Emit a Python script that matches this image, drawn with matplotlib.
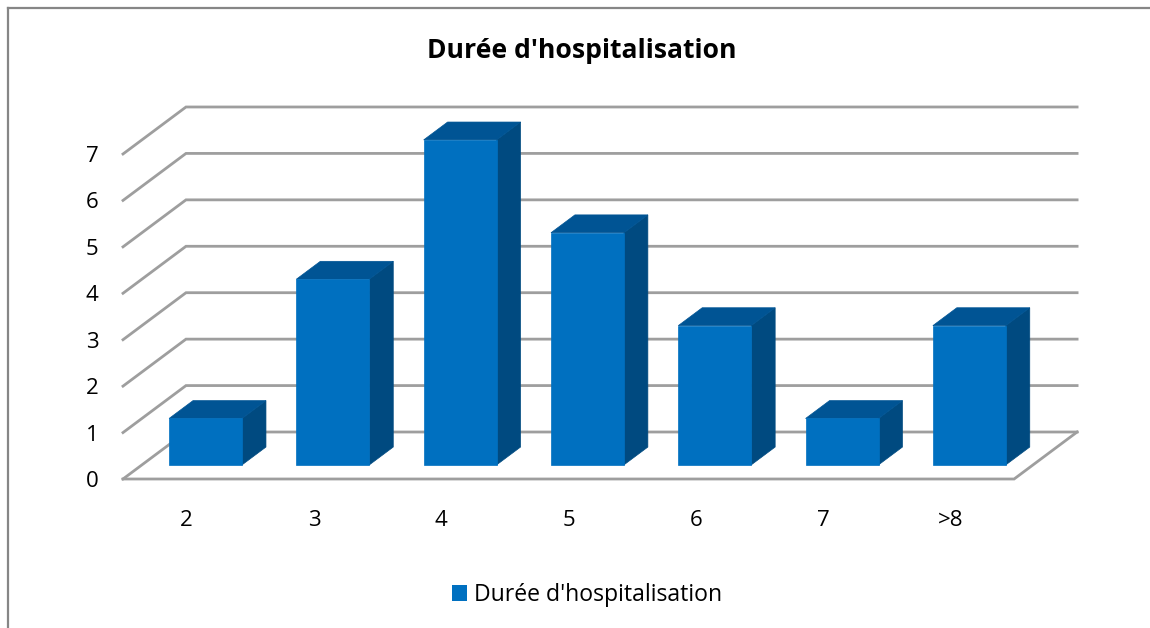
import matplotlib
matplotlib.use('Agg')
import matplotlib.pyplot as plt
from matplotlib.patches import Patch

categories = ['2', '3', '4', '5', '6', '7', '>8']
values = [1, 4, 7, 5, 3, 1, 3]
yticks = [0, 1, 2, 3, 4, 5, 6, 7]
title = "Durée d'hospitalisation"

plt.rcParams['font.family'] = ['Open Sans', 'DejaVu Sans']

W, H = 1150, 628
# pixels for one unit of each axis, and where the origin sits
unit_x, unit_y = 127.3, 46.43
x0_px, y0_px = 123, 479
# full depth of the floor, in axis units
dx, dy = 63 / unit_x, 47 / unit_y
bar_w = 0.573
d_front, d_back = 0.30, 0.68

front_col = '#0070c0'
top_col = '#005494'
side_col = '#004a80'
grid_col = '#9e9e9e'

fig = plt.figure(figsize=(W / 100, H / 100), dpi=100)
ax = fig.add_axes([0, 0, 1, 1])
ax.set_xlim(-x0_px / unit_x, (W - x0_px) / unit_x)
ax.set_ylim(-(H - y0_px) / unit_y, y0_px / unit_y)
ax.axis('off')


def proj(x, y, d):
    # oblique projection, d goes from 0 (front) to 1 (back wall)
    return x + d * dx, y + d * dy


n = len(categories)

# outer frame of the chart area
fx0, fy0 = -(x0_px - 8) / unit_x, (y0_px - 8) / unit_y
ax.plot([fx0, fx0], [ax.get_ylim()[0], fy0], color='#868686', lw=1.6, zorder=1)
ax.plot([fx0, ax.get_xlim()[1]], [fy0, fy0], color='#868686', lw=1.6, zorder=1)

# gridlines on side wall and back wall
for v in yticks:
    xs = [0, proj(0, v, 1)[0], proj(n, v, 1)[0]]
    ys = [v, proj(0, v, 1)[1], proj(n, v, 1)[1]]
    ax.plot(xs, ys, color=grid_col, lw=2.0, solid_joinstyle='miter', zorder=2)
    ax.text(-31 / unit_x, v - 2.5 / unit_y, str(v), ha='center', va='center', fontsize=16, color='black')

# front and right edge of the floor
ax.plot([0, n, proj(n, 0, 1)[0]], [0, 0, proj(n, 0, 1)[1]], color=grid_col, lw=2.0,
        solid_joinstyle='miter', zorder=2)

for i, (cat, val) in enumerate(zip(categories, values)):
    left = i + 0.5 - bar_w / 2
    right = left + bar_w
    a = proj(left, 0, d_front)
    b = proj(right, 0, d_front)
    c = proj(right, val, d_front)
    e = proj(left, val, d_front)
    b2 = proj(right, 0, d_back)
    c2 = proj(right, val, d_back)
    e2 = proj(left, val, d_back)
    ax.fill([a[0], b[0], c[0], e[0]], [a[1], b[1], c[1], e[1]], color=front_col, lw=0.5, zorder=5)
    ax.fill([b[0], b2[0], c2[0], c[0]], [b[1], b2[1], c2[1], c[1]], color=side_col, lw=0.5, zorder=4)
    ax.fill([e[0], c[0], c2[0], e2[0]], [e[1], c[1], c2[1], e2[1]], color=top_col, lw=0.5, zorder=4)
    ax.text(i + 0.5, -41 / unit_y, cat, ha='center', va='center', fontsize=16, color='black')

ax.text(459 / unit_x, (y0_px - 51) / unit_y, title, ha='center', va='center',
        fontsize=19.1, fontweight='bold', color='black')

handle = Patch(facecolor=front_col, edgecolor='none', label=title)
fig.legend(handles=[handle], loc='center', bbox_to_anchor=(587 / W, 1 - 595 / H), frameon=False,
           fontsize=16.6, handlelength=0.66, handleheight=0.66, handletextpad=0.28)

fig.savefig('out.png', dpi=100, facecolor='white')
